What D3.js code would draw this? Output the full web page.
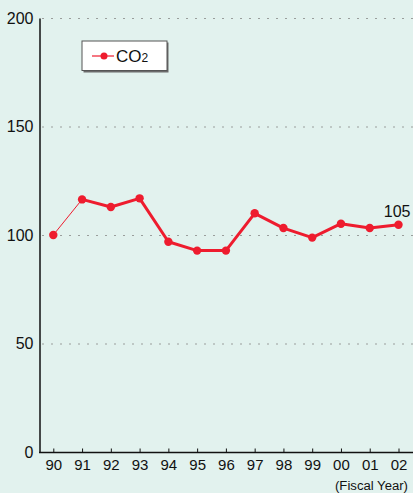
<!DOCTYPE html>
<html>
<head>
<meta charset="utf-8">
<script src="https://cdn.jsdelivr.net/npm/d3@7"></script>
<style>
  body { margin: 0; background: #e2f2ee; }
  svg { display: block; font-family: "Liberation Sans", Arial, sans-serif; }
</style>
</head>
<body>
<div id="chart"></div>
<script>
// CO2 index by fiscal year, 1990 = 100
var years = ["90", "91", "92", "93", "94", "95", "96", "97", "98", "99", "00", "01", "02"];
var co2 = [100, 116.4, 112.9, 116.9, 96.9, 92.8, 92.8, 110, 103.2, 98.8, 105.2, 103.2, 104.7];
var yTicks = [0, 50, 100, 150, 200];

var width = 413, height = 493;
var red = "#ee1c2e";

var svg = d3.select("#chart").append("svg")
    .attr("width", width)
    .attr("height", height);

svg.append("rect").attr("width", width).attr("height", height).attr("fill", "#e2f2ee");

var x = d3.scalePoint().domain(years).range([53.3, 398.5]);
var y = d3.scaleLinear().domain([0, 200]).range([452, 18]);

// dotted grid
svg.append("g").selectAll("line")
  .data(yTicks.filter(d => d > 0))
  .enter().append("line")
    .attr("x1", 40).attr("x2", width)
    .attr("y1", d => y(d) + 0.5).attr("y2", d => y(d) + 0.5)
    .attr("stroke", "#9a9e9c")
    .attr("stroke-width", 1)
    .attr("stroke-dasharray", "2,7")
    .attr("stroke-dashoffset", -11);

// y axis
var yAxis = svg.append("g")
    .attr("transform", "translate(39.5,0)")
    .call(d3.axisLeft(y).tickValues(yTicks).tickSize(0).tickPadding(6));
yAxis.select(".domain").attr("stroke", "#111").attr("stroke-width", 1.5);
yAxis.selectAll("text").attr("font-size", 16).attr("fill", "#111")
    .attr("font-family", "Liberation Sans, Arial, sans-serif");

// x axis
var xAxis = svg.append("g")
    .attr("transform", "translate(0,452.5)")
    .call(d3.axisBottom(x).tickSize(-4).tickPadding(7));
xAxis.select(".domain").attr("d", "M39," + 0 + "H" + width).attr("stroke", "#111").attr("stroke-width", 1.5);
xAxis.selectAll(".tick line").attr("stroke", "#111");
xAxis.selectAll("text").attr("font-size", 15).attr("fill", "#111")
    .attr("font-family", "Liberation Sans, Arial, sans-serif");

svg.append("text")
    .attr("x", 408).attr("y", 490)
    .attr("text-anchor", "end")
    .attr("font-size", 12)
    .attr("fill", "#111")
    .attr("textLength", 73)
    .attr("lengthAdjust", "spacingAndGlyphs")
    .text("(Fiscal Year)");

// series
var pts = years.map((d, i) => ({year: d, value: co2[i]}));
var line = d3.line().x(d => x(d.year)).y(d => y(d.value));

svg.append("path")
    .datum(pts.slice(0, 2))
    .attr("d", line)
    .attr("fill", "none")
    .attr("stroke", red)
    .attr("stroke-width", 1);

svg.append("path")
    .datum(pts.slice(1))
    .attr("d", line)
    .attr("fill", "none")
    .attr("stroke", red)
    .attr("stroke-width", 3)
    .attr("stroke-linejoin", "round");

svg.append("g").selectAll("circle")
  .data(pts)
  .enter().append("circle")
    .attr("cx", d => x(d.year))
    .attr("cy", d => y(d.value))
    .attr("r", 4.2)
    .attr("fill", red);

var last = pts[pts.length - 1];
svg.append("text")
    .attr("x", x(last.year) + 12).attr("y", y(last.value) - 8)
    .attr("text-anchor", "end")
    .attr("font-size", 16)
    .attr("fill", "#111")
    .text(Math.round(last.value));

// legend
var lg = svg.append("g").attr("transform", "translate(82,41)");
lg.append("rect").attr("x", 1.5).attr("y", 1.5).attr("width", 85).attr("height", 30).attr("fill", "#6b6b6b");
lg.append("rect").attr("x", 0).attr("y", 0).attr("width", 85).attr("height", 29.5)
    .attr("fill", "#fff").attr("stroke", "#555").attr("stroke-width", 1);
lg.append("line").attr("x1", 10).attr("x2", 32).attr("y1", 15).attr("y2", 15)
    .attr("stroke", red).attr("stroke-width", 1.2);
lg.append("circle").attr("cx", 22).attr("cy", 15).attr("r", 3.5).attr("fill", red);
var lt = lg.append("text").attr("x", 34).attr("y", 21)
    .attr("font-size", 17).attr("fill", "#111");
lt.append("tspan").text("CO");
lt.append("tspan").attr("font-size", 12).text("2");
</script>
</body>
</html>
